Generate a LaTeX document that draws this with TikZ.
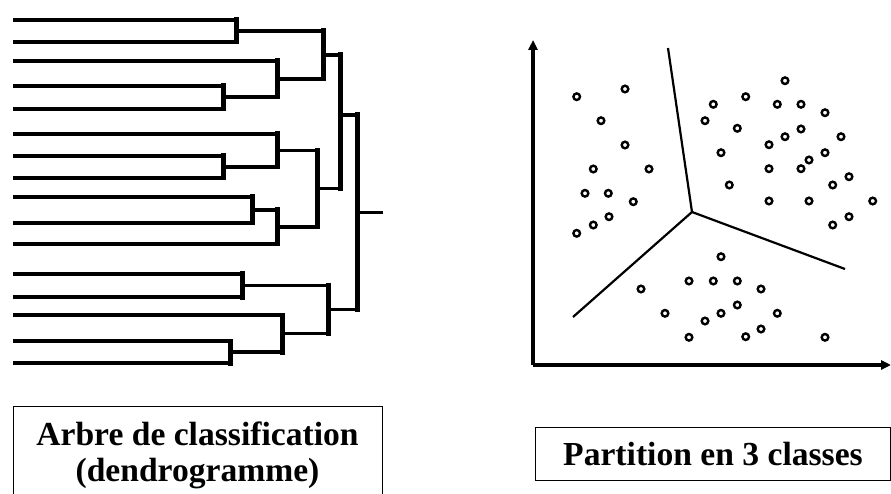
\documentclass[tikz,border=0pt]{standalone}
\usepackage{fontspec}
\setmainfont{Liberation Serif}
\usetikzlibrary{arrows.meta}
\begin{document}
\begin{tikzpicture}[x=1pt,y=-1pt,
  hline/.style={line width=3.6pt},
  vline/.style={line width=5pt,line cap=rect},
  axis/.style={line width=3.4pt,-{Triangle[length=10pt,width=9pt]}},
  cut/.style={line width=2.2pt},
  dot/.style={line width=2.4pt},
  lbox/.style={draw,line width=1.2pt,inner sep=0pt},
  ltext/.style={font=\fontsize{33.6}{36}\bfseries\selectfont,inner sep=0pt,anchor=base}]
\useasboundingbox (0,0) rectangle (891,494);
% ---------- dendrogram: leaves ----------
\foreach \y/\xe in {20/236,42/236,61/277,86/223,109/223,134/277,156/223,178/223,
  197/252,223/252,244/277,274/242,297/242,315/282,341/230,363/230}
  \draw[hline] (13,\y) -- (\xe,\y);
% internal horizontals
\foreach \y/\xa/\xb in {31/236/323,97/223/277,79/277/323,55/323/340,
  167/223/277,150.5/277/317,210/252/277,227/277/317,188.5/317/340,
  285.5/242/328,352/230/282,333.5/282/328,309.5/328/357,115/340/357,212.5/357/383}
  \draw[hline] (\xa,\y) -- (\xb,\y);
% verticals
\foreach \x/\ya/\yb in {236/20/42,223/86/109,277/61/97,323/31/79,
  223/156/178,277/134/167,252/197/223,277/210/244,317/150.5/227,340/55/188.5,
  242/274/297,230/341/363,282/315/352,328/285.5/333.5,357/115/309.5}
  \draw[vline] (\x,\ya) -- (\x,\yb);
% ---------- scatter ----------
\coordinate (o) at (533,365);
\coordinate (ytop) at (533,40);
\coordinate (xend) at (891,365);
\draw[axis] (o) -- (ytop);
\draw[axis] (o) -- (xend);
\coordinate (c) at (692,212);
\coordinate (ct) at (668,48);
\coordinate (cl) at (573,317);
\coordinate (cr) at (845,269);
\draw[cut] (c) -- (ct);
\draw[cut] (c) -- (cl);
\draw[cut] (c) -- (cr);
\foreach \p in {
  {576.7,96.7},{625,89},{601,120.7},{625,145},{593.3,169},{649,169},
  {585,193.3},{608.3,193.3},{633.3,201.7},{609,216.7},{576.7,233.3},{593.3,225},
  {785,80.7},{745.7,96.7},{713.3,104.3},{777.3,104.3},{801,104.3},{825,112.7},
  {705,120.7},{737.3,128.3},{801,129},{785,136.7},{841,136.7},{769,144.7},
  {721,152.7},{825,152.7},{809,160},{769,168.7},{801,168.7},{849,176.7},
  {729.3,185},{832.7,185},{769,201},{809,201},{872.7,201},{849,216.7},{832.7,225},
  {641,289},{689,281},{713.3,281},{665,313.3},{705,321},{689,337.3},{721,256.7},
  {737.3,281},{761,289},{737.3,305},{721,313.3},{777.3,313.3},{761,329},
  {745.7,336.7},{825,337.3}}
  \draw[dot] (\p) circle (3.3);
% ---------- labels ----------
\node[lbox,minimum width=369pt,minimum height=91pt,anchor=north west] (treebox) at (13,406) {};
\node[ltext] (tree1) at (197.5,445) {Arbre de classification};
\node[ltext] (tree2) at (197.5,481) {(dendrogramme)};
\node[lbox,minimum width=355pt,minimum height=53pt,anchor=north west] (partbox) at (535,427) {};
\node[ltext] (part) at (713,465) {Partition en 3 classes};
\end{tikzpicture}
\end{document}
